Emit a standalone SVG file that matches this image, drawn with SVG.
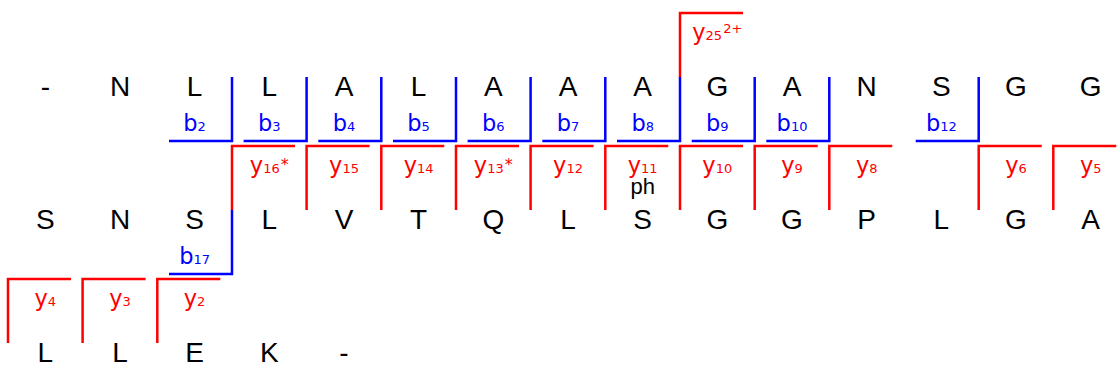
<svg xmlns="http://www.w3.org/2000/svg" width="1119" height="373" viewBox="0 0 1119 373">
<style>
.res{font-family:"Liberation Sans",Arial,sans-serif;font-size:28px;fill:#000;text-anchor:middle}
.lb{font-family:"DejaVu Sans",Verdana,sans-serif;font-size:22.5px;text-anchor:middle}
.b{fill:#0000ff}
.y{fill:#ff0000}
.s{font-size:13px}
.a{font-size:16px}
.bb{fill:none;stroke:#0000ff;stroke-width:2.5}
.yb{fill:none;stroke:#ff0000;stroke-width:2.5}
.ph{font-family:"Liberation Sans",Arial,sans-serif;font-size:22px;fill:#000;text-anchor:middle}
</style>
<rect width="1119" height="373" fill="#fff"/>
<g id="connectors">
<path class="yb" d="M743 13H680V77"/>
<path class="bb" d="M169 141H232V77"/>
<path class="bb" d="M243.6 141H306.6V77"/>
<path class="bb" d="M318.3 141H381.3V77"/>
<path class="bb" d="M393 141H456V77"/>
<path class="bb" d="M467.6 141H530.6V77"/>
<path class="bb" d="M542.3 141H605.3V77"/>
<path class="bb" d="M617 141H680V77"/>
<path class="bb" d="M691.7 141H754.7V77"/>
<path class="bb" d="M766.3 141H829.3V77"/>
<path class="bb" d="M915.7 141H978.7V77"/>
<path class="bb" d="M169 274H232V210"/>
<path class="yb" d="M295 146H232V210"/>
<path class="yb" d="M369.6 146H306.6V210"/>
<path class="yb" d="M444.3 146H381.3V210"/>
<path class="yb" d="M519 146H456V210"/>
<path class="yb" d="M593.6 146H530.6V210"/>
<path class="yb" d="M668.3 146H605.3V210"/>
<path class="yb" d="M743 146H680V210"/>
<path class="yb" d="M817.7 146H754.7V210"/>
<path class="yb" d="M892.3 146H829.3V210"/>
<path class="yb" d="M1041.7 146H978.7V210"/>
<path class="yb" d="M1116.3 146H1053.3V210"/>
<path class="yb" d="M71 279H8V343"/>
<path class="yb" d="M145.6 279H82.6V343"/>
<path class="yb" d="M220.3 279H157.3V343"/>
</g>
<g id="residues-row1">
<text id="r1-0" class="res" x="45.3" y="96">-</text>
<text id="r1-1" class="res" x="120" y="96">N</text>
<text id="r1-2" class="res" x="194.6" y="96">L</text>
<text id="r1-3" class="res" x="269.3" y="96">L</text>
<text id="r1-4" class="res" x="344" y="96">A</text>
<text id="r1-5" class="res" x="418.6" y="96">L</text>
<text id="r1-6" class="res" x="493.3" y="96">A</text>
<text id="r1-7" class="res" x="568" y="96">A</text>
<text id="r1-8" class="res" x="642.7" y="96">A</text>
<text id="r1-9" class="res" x="717.3" y="96">G</text>
<text id="r1-10" class="res" x="792" y="96">A</text>
<text id="r1-11" class="res" x="866.7" y="96">N</text>
<text id="r1-12" class="res" x="941.3" y="96">S</text>
<text id="r1-13" class="res" x="1016" y="96">G</text>
<text id="r1-14" class="res" x="1090.7" y="96">G</text>
</g>
<g id="residues-row2">
<text id="r2-0" class="res" x="45.3" y="228.5">S</text>
<text id="r2-1" class="res" x="120" y="228.5">N</text>
<text id="r2-2" class="res" x="194.6" y="228.5">S</text>
<text id="r2-3" class="res" x="269.3" y="228.5">L</text>
<text id="r2-4" class="res" x="344" y="228.5">V</text>
<text id="r2-5" class="res" x="418.6" y="228.5">T</text>
<text id="r2-6" class="res" x="493.3" y="228.5">Q</text>
<text id="r2-7" class="res" x="568" y="228.5">L</text>
<text id="r2-8" class="res" x="642.7" y="228.5">S</text>
<text id="r2-9" class="res" x="717.3" y="228.5">G</text>
<text id="r2-10" class="res" x="792" y="228.5">G</text>
<text id="r2-11" class="res" x="866.7" y="228.5">P</text>
<text id="r2-12" class="res" x="941.3" y="228.5">L</text>
<text id="r2-13" class="res" x="1016" y="228.5">G</text>
<text id="r2-14" class="res" x="1090.7" y="228.5">A</text>
</g>
<g id="residues-row3">
<text id="r3-0" class="res" x="45.3" y="362">L</text>
<text id="r3-1" class="res" x="120" y="362">L</text>
<text id="r3-2" class="res" x="194.6" y="362">E</text>
<text id="r3-3" class="res" x="269.3" y="362">K</text>
<text id="r3-4" class="res" x="344" y="362">-</text>
</g>
<g id="b-labels">
<text class="lb b" x="194.6" y="130.7">b<tspan class="s">2</tspan></text>
<text class="lb b" x="269.3" y="130.7">b<tspan class="s">3</tspan></text>
<text class="lb b" x="344" y="130.7">b<tspan class="s">4</tspan></text>
<text class="lb b" x="418.6" y="130.7">b<tspan class="s">5</tspan></text>
<text class="lb b" x="493.3" y="130.7">b<tspan class="s">6</tspan></text>
<text class="lb b" x="568" y="130.7">b<tspan class="s">7</tspan></text>
<text class="lb b" x="642.7" y="130.7">b<tspan class="s">8</tspan></text>
<text class="lb b" x="717.3" y="130.7">b<tspan class="s">9</tspan></text>
<text class="lb b" x="792" y="130.7">b<tspan class="s">10</tspan></text>
<text class="lb b" x="941.3" y="130.7">b<tspan class="s">12</tspan></text>
<text class="lb b" x="194.6" y="263.7">b<tspan class="s">17</tspan></text>
</g>
<g id="y-labels">
<text class="lb y" x="717.3" y="39.5">y<tspan class="s">25</tspan><tspan class="s" dx="1" dy="-7">2+</tspan></text>
<text class="lb y" x="269.3" y="172.7">y<tspan class="s">16</tspan><tspan class="a" dx="1" dy="-3">*</tspan></text>
<text class="lb y" x="344" y="172.7">y<tspan class="s">15</tspan></text>
<text class="lb y" x="418.6" y="172.7">y<tspan class="s">14</tspan></text>
<text class="lb y" x="493.3" y="172.7">y<tspan class="s">13</tspan><tspan class="a" dx="1" dy="-3">*</tspan></text>
<text class="lb y" x="568" y="172.7">y<tspan class="s">12</tspan></text>
<text class="lb y" x="642.7" y="172.7">y<tspan class="s">11</tspan></text>
<text class="lb y" x="717.3" y="172.7">y<tspan class="s">10</tspan></text>
<text class="lb y" x="792" y="172.7">y<tspan class="s">9</tspan></text>
<text class="lb y" x="866.7" y="172.7">y<tspan class="s">8</tspan></text>
<text class="lb y" x="1016" y="172.7">y<tspan class="s">6</tspan></text>
<text class="lb y" x="1090.7" y="172.7">y<tspan class="s">5</tspan></text>
<text class="lb y" x="45.3" y="305.7">y<tspan class="s">4</tspan></text>
<text class="lb y" x="120" y="305.7">y<tspan class="s">3</tspan></text>
<text class="lb y" x="194.6" y="305.7">y<tspan class="s">2</tspan></text>
</g>
<g id="modification">
<text id="ph" class="ph" x="642.7" y="194">ph</text>
</g>
</svg>
